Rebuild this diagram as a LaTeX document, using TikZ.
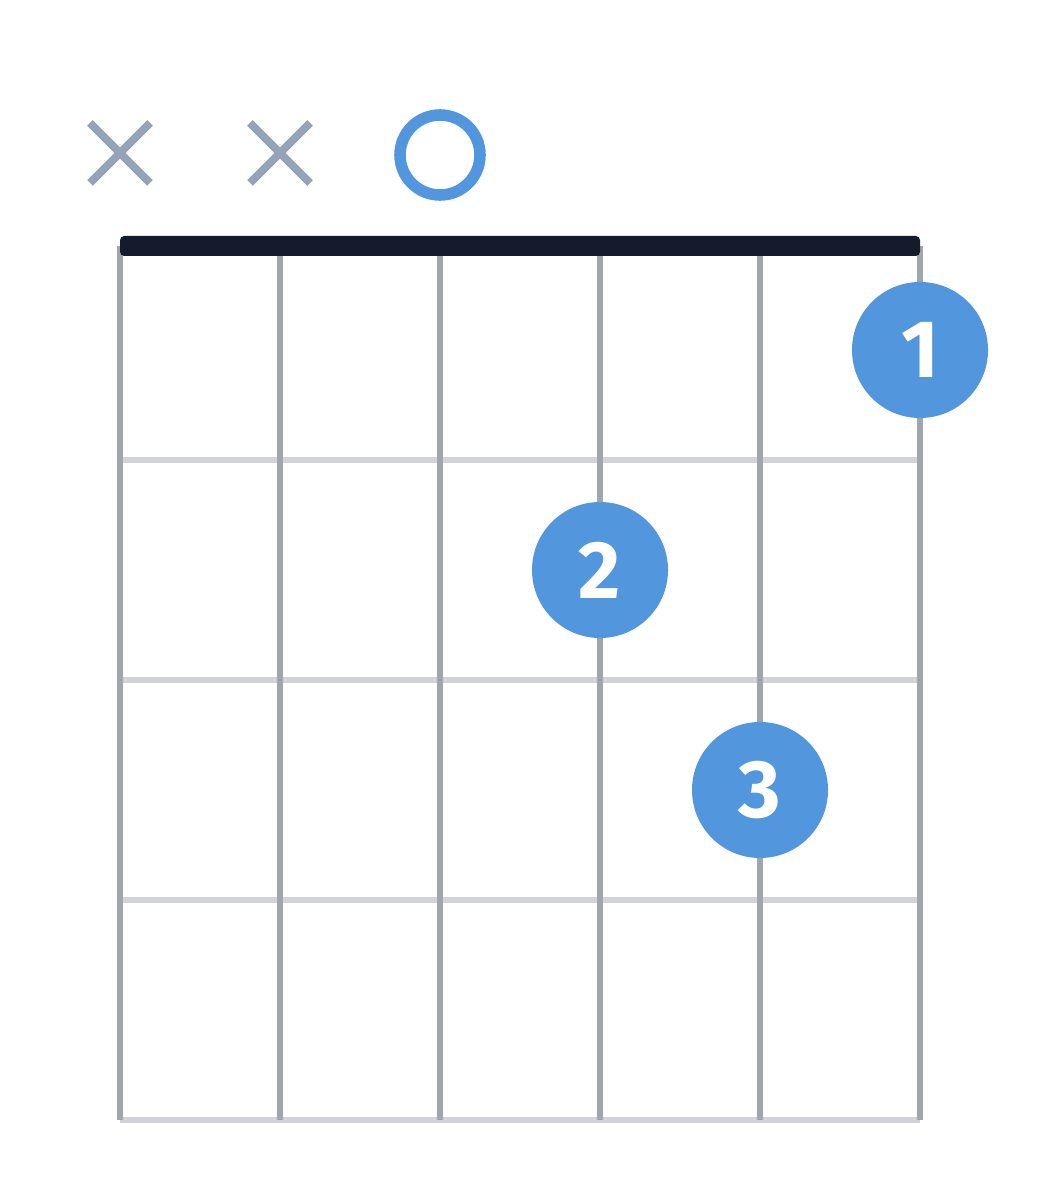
\documentclass[tikz,border=0pt]{standalone}
\usepackage{fontspec}
\setsansfont{Fira Sans}
\usepackage{tikz}
\usetikzlibrary{positioning}
\definecolor{dotblue}{HTML}{5296DE}
\definecolor{nutblack}{HTML}{141B2D}
\definecolor{stringgray}{HTML}{A1A5AD}
\definecolor{fretgray}{HTML}{D1D3D8}
\definecolor{mutegray}{HTML}{94A3B8}

\begin{document}
\begin{tikzpicture}[
  x=0.025cm, y=-0.025cm,
  string/.style={draw=stringgray, line width=4.3pt},
  fret/.style={draw=fretgray, line width=4.3pt},
  finger/.style={circle, fill=dotblue, minimum size=3.4cm, inner sep=0pt,
    text=white, font=\sffamily\bfseries\fontsize{58}{58}\selectfont},
  mute/.style={draw=mutegray, line width=5.7pt},
  open/.style={circle, draw=dotblue, line width=8.2pt, minimum size=2cm, inner sep=0pt}
]
\useasboundingbox (0,0) rectangle (1040,1200);

% Frets
\foreach \y in {460,680,900,1120}
  \draw[fret] (120,\y) -- (920,\y);

% Strings
\foreach \x in {120,280,440,600,760,920}
  \draw[string] (\x,246) -- (\x,1120);

% Nut
\fill[nutblack, rounded corners=3pt] (120,236) rectangle (920,256);

% Muted and open strings
\draw[mute] (90,123) -- (150,183) (90,183) -- (150,123);
\draw[mute] (250,123) -- (310,183) (250,183) -- (310,123);
\node[open] (o3) at (440,155) {};

% Fingers
\node[finger] (f1) at (920,350) {1};
\node[finger] (f2) at (600,570) {2};
\node[finger] (f3) at (760,790) {3};
\end{tikzpicture}
\end{document}
